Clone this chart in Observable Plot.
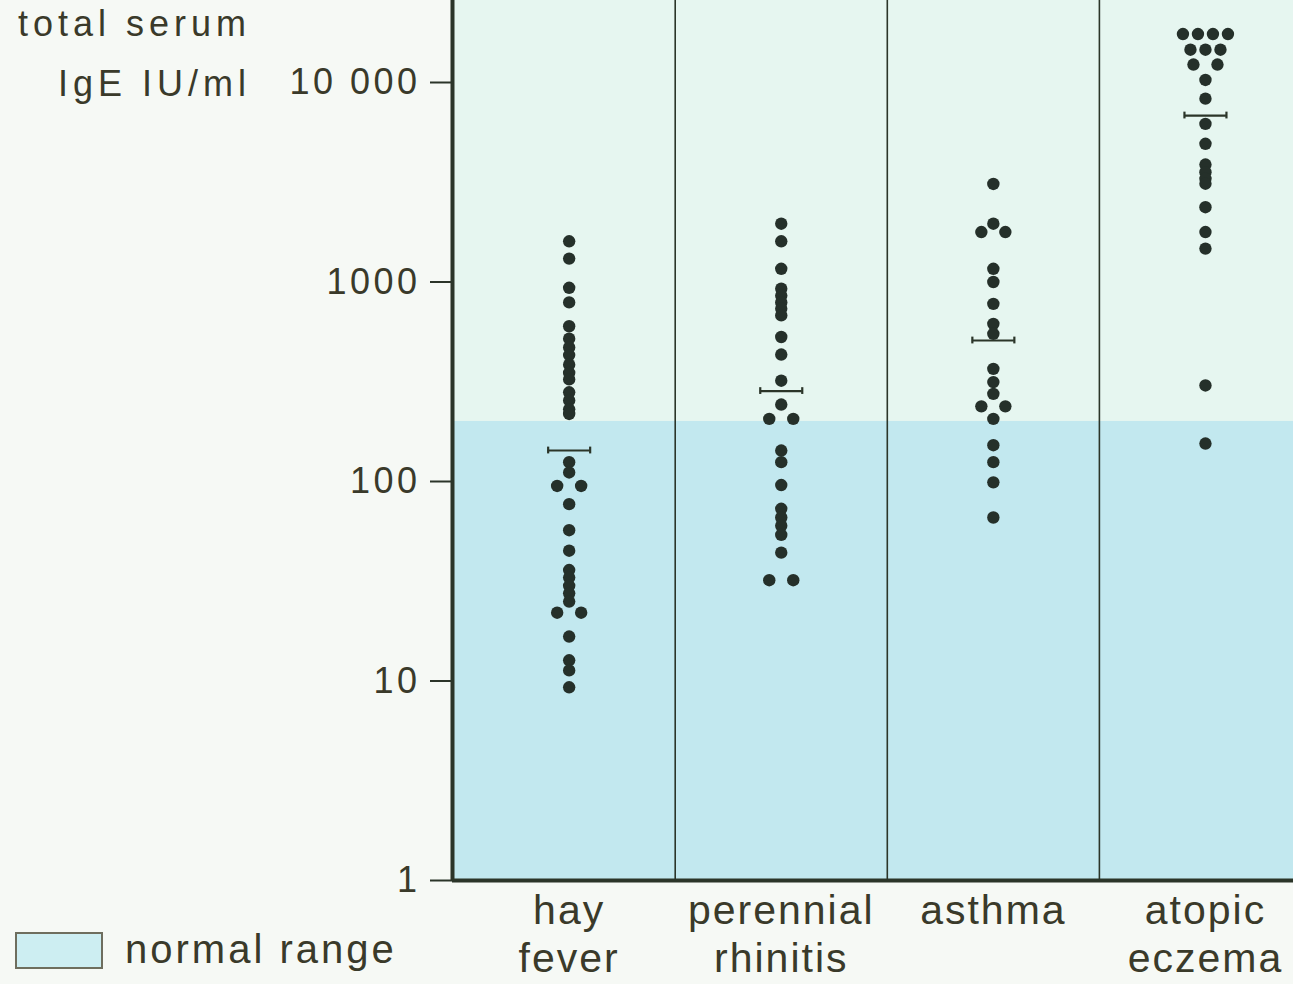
<!DOCTYPE html>
<html>
<head>
<meta charset="utf-8">
<script src="https://cdn.jsdelivr.net/npm/d3@7"></script>
<script src="https://cdn.jsdelivr.net/npm/@observablehq/plot@0.6"></script>
<style>
  html, body { margin: 0; padding: 0; background: #f6f9f5; }
  #wrap { position: relative; width: 1293px; height: 984px; overflow: hidden;
          font-family: "Liberation Sans", Arial, sans-serif; color: #3a3a2a; }
  #wrap svg text { letter-spacing: 3.5px; }
  #wrap svg g[aria-label="x-axis tick label"] text { letter-spacing: 2px; }
  #title { position: absolute; left: 0; top: -6px; width: 251px; text-align: right;
           font-size: 36px; line-height: 60px; letter-spacing: 5px; }
  #legend-box { position: absolute; left: 15px; top: 932px; width: 84px; height: 33px;
                background: #cdeef2; border: 2px solid #6e6e5e; }
  #legend-text { position: absolute; left: 125px; top: 929px; font-size: 40px; line-height: 40px;
                 letter-spacing: 3px; white-space: nowrap; }
</style>
</head>
<body>
<div id="wrap">
  <div id="title">total serum<br>IgE IU/ml</div>
  <div id="legend-box"></div>
  <div id="legend-text">normal range</div>
</div>
<script>
// ---- data ----
const categories = ["hay fever", "perennial rhinitis", "asthma", "atopic eczema"];
const xLabels = ["hay\nfever", "perennial\nrhinitis", "asthma", "atopic\neczema"];

const hayFever = [1600, 1310, 935, 790, 600, 520, 470, 430, 385, 350, 325, 280, 255, 230, 218,
                  125, 111, 95, 95, 77, 57, 45, 36, 33, 30, 27.5, 25, 22, 22, 16.7, 12.7, 11.3, 9.3];
const perennialRhinitis = [1960, 1600, 1165, 925, 855, 790, 735, 680, 530, 433, 320, 243, 206, 206,
                           143, 125, 96, 73, 66, 60, 54, 44, 32, 32];
const asthma = [3100, 1960, 1780, 1780, 1165, 1000, 777, 617, 550, 367, 315, 275, 238, 238,
                206, 152, 125, 99, 66];
const atopicEczema = [17500, 17500, 17500, 17500, 14600, 14600, 14600, 12300, 12300, 10300, 8300,
                      6200, 4930, 3880, 3550, 3290, 3110, 2370, 1780, 1470, 303, 155];
const means = [143, 284, 509, 6830];
const normalUpper = 200;
const yTicks = [1, 10, 100, 1000, 10000];
const yTickLabels = ["1", "10", "100", "1000", "10 000"];

// ---- build tables ----
const series = [hayFever, perennialRhinitis, asthma, atopicEczema];
const xDomain = [-0.55, categories.length - 0.5];
const xRange = [452, 1311];
const pxPerUnit = (xRange[1] - xRange[0]) / (xDomain[1] - xDomain[0]);
const slotUnit = 15 / pxPerUnit; // x units per dot slot
const rows = [];
series.forEach((vals, i) => {
  const groups = d3.group(vals, v => v);
  for (const [v, arr] of groups) {
    const n = arr.length;
    const gap = n === 2 ? 1.6 : 1;
    arr.forEach((_, k) => rows.push({cat: categories[i], i, value: v, slot: (k - (n - 1) / 2) * gap}));
  }
});
const meanRows = means.map((m, i) => ({i, m}));
const halfBar = 21 / pxPerUnit;
const capRows = meanRows.flatMap(d => [-1, 1].map(s => ({x: d.i + s * halfBar, m: d.m})));
const yMax = Math.pow(10, 880 / 199.5);
const ink = "#2b3529";

const plot = Plot.plot({
  width: 1293, height: 984,
  marginLeft: 452, marginRight: 0, marginTop: 0, marginBottom: 104,
  style: {background: "transparent", fontFamily: "'Liberation Sans', Arial, sans-serif", fontSize: "36px", color: "#3a3a2a", overflow: "hidden"},
  x: {domain: xDomain, range: xRange, label: null},
  y: {type: "log", domain: [1, yMax], range: [880, 0], label: null},
  marks: [
    Plot.rect([yMax], {x1: xDomain[0], x2: xDomain[1] + 1, y1: 1, y2: d => d, fill: "#e6f6f0"}),
    Plot.rect([normalUpper], {x1: xDomain[0], x2: xDomain[1] + 1, y1: 1, y2: d => d, fill: "#c2e8ef"}),
    Plot.ruleX(categories.slice(1), {x: (d, i) => i + 0.5, stroke: ink, strokeWidth: 1.6}),
    Plot.ruleY(meanRows, {y: "m", x1: d => d.i - halfBar, x2: d => d.i + halfBar, stroke: ink, strokeWidth: 2.2}),
    Plot.ruleX(capRows, {x: "x", y1: d => d.m / 1.04, y2: d => d.m * 1.04, stroke: ink, strokeWidth: 2.2}),
    Plot.dot(rows, {x: d => d.i + d.slot * slotUnit, y: "value", r: 6.2, fill: "#25302a", stroke: "none"}),
    Plot.ruleX([xDomain[0]], {stroke: ink, strokeWidth: 4}),
    Plot.ruleY([1], {stroke: ink, strokeWidth: 4}),
    Plot.axisY({ticks: yTicks, tickFormat: d => yTickLabels[yTicks.indexOf(d)], tickSize: 22, tickPadding: 10,
                fontSize: 36, stroke: ink, strokeWidth: 2, fill: "#3a3a2a", label: null}),
    Plot.axisX({ticks: categories.map((_, i) => i), tickFormat: i => xLabels[i], tickSize: 0, tickPadding: 9,
                lineHeight: 1.18, fontSize: 41, fill: "#3a3a2a", label: null})
  ]
});
document.getElementById("wrap").prepend(plot);
</script>
</body>
</html>
